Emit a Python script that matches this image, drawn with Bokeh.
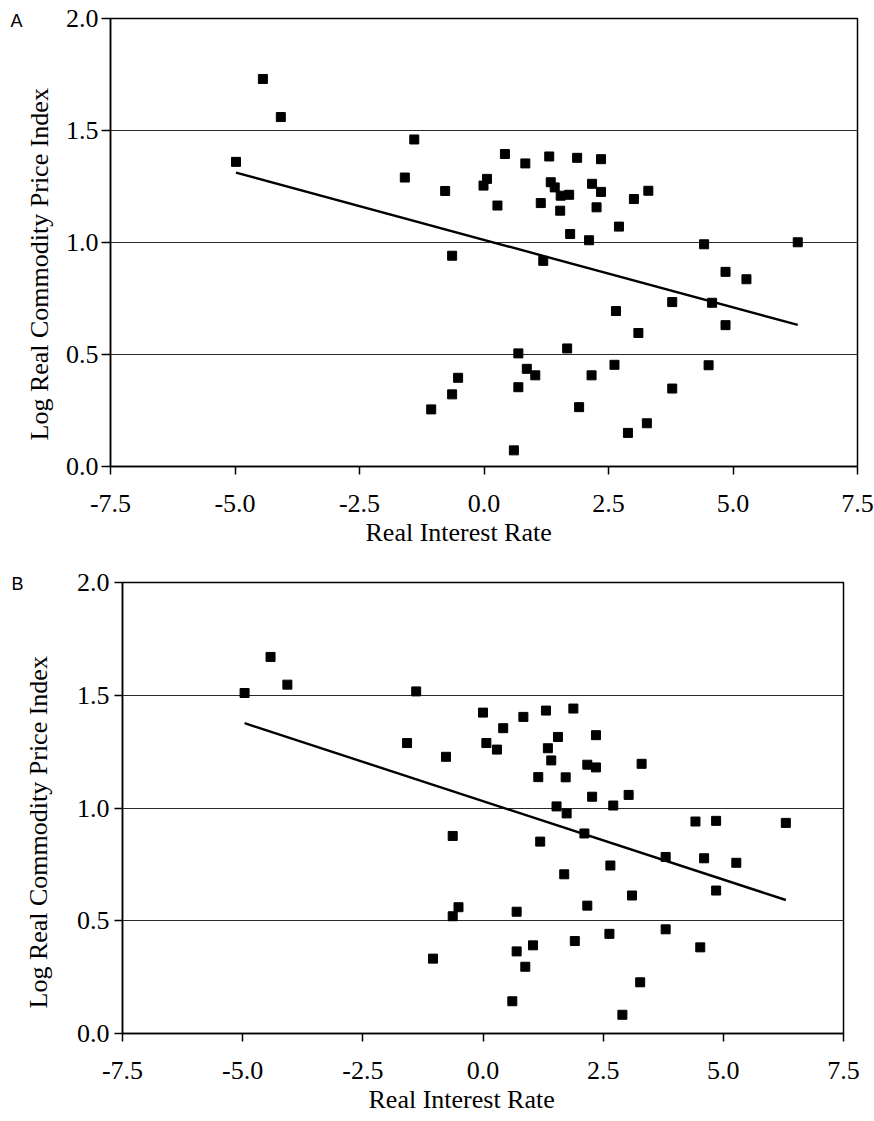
from bokeh.plotting import figure
from bokeh.layouts import column, row
from bokeh.models import Range1d, FixedTicker, PrintfTickFormatter, Title
from bokeh.embed import file_html
from bokeh.resources import INLINE

# ---------------- data ----------------
x_ticks = [-7.5, -5.0, -2.5, 0.0, 2.5, 5.0, 7.5]
y_ticks = [0.0, 0.5, 1.0, 1.5, 2.0]
x_title = "Real Interest Rate"
y_title = "Log Real Commodity Price Index"
panel_names = ["A", "B"]

a_rate = [-4.98, -4.44, -4.08, -1.40, -1.59, -0.78, 0.42, 0.83, 1.31, 1.87,
          2.35, 0.06, -0.01, 0.27, 1.14, 1.34, 1.42, 1.54, 1.71, 1.53,
          2.17, 2.35, 2.26, 3.01, 3.30, 2.71, 1.73, 2.11, 4.42, 6.30,
          -0.64, 1.19, 4.85, 5.27, 3.78, 4.58, 4.85, 2.65, 3.10, 1.67,
          0.69, 0.86, 1.03, 2.16, 2.62, 4.51, 0.69, 3.78, 1.91, 3.27,
          2.89, 0.60, -0.52, -0.64, -1.06]
a_price = [1.360, 1.730, 1.560, 1.460, 1.290, 1.230, 1.395, 1.353, 1.384, 1.378,
           1.372, 1.284, 1.254, 1.165, 1.176, 1.269, 1.246, 1.209, 1.213, 1.142,
           1.262, 1.226, 1.157, 1.194, 1.231, 1.071, 1.038, 1.010, 0.992, 1.001,
           0.941, 0.918, 0.869, 0.836, 0.734, 0.731, 0.631, 0.694, 0.596, 0.527,
           0.505, 0.436, 0.407, 0.407, 0.454, 0.452, 0.354, 0.348, 0.265, 0.193,
           0.150, 0.072, 0.396, 0.322, 0.255]
a_fit_rate = [-4.98, 6.30]
a_fit_price = [1.312, 0.632]

b_rate = [-4.96, -4.42, -4.07, -1.39, -1.58, -0.77, 0.00, 0.07, 0.29, 0.42,
          0.84, 1.31, 1.88, 1.56, 1.35, 1.42, 2.35, 2.17, 2.35, 3.30,
          1.15, 1.72, 2.27, 3.03, 2.71, 1.53, 1.74, 4.42, 4.85, 6.30,
          -0.63, 2.11, 1.19, 3.80, 4.60, 5.27, 2.65, 1.69, 4.85, 3.10,
          2.17, -0.51, -0.63, 0.70, 3.80, 2.63, 1.91, 4.52, 1.04, 0.70,
          0.88, -1.04, 3.27, 0.61, 2.90]
b_price = [1.510, 1.670, 1.547, 1.517, 1.288, 1.227, 1.423, 1.288, 1.259, 1.354,
           1.404, 1.432, 1.441, 1.315, 1.265, 1.211, 1.323, 1.192, 1.180, 1.196,
           1.137, 1.136, 1.050, 1.058, 1.011, 1.007, 0.976, 0.940, 0.943, 0.934,
           0.876, 0.887, 0.851, 0.783, 0.777, 0.757, 0.745, 0.706, 0.634, 0.612,
           0.567, 0.560, 0.520, 0.540, 0.462, 0.442, 0.410, 0.382, 0.391, 0.364,
           0.296, 0.332, 0.227, 0.143, 0.083]
b_fit_rate = [-4.96, 6.30]
b_fit_price = [1.376, 0.592]

SERIF = "Liberation Serif"
SANS = "Liberation Sans"
FS = "26px"


def make_panel(rate, price, fit_rate, fit_price, name, height, bl, br, bt, bb,
               ytick_out, ylab_standoff, xlab_standoff,
               ytitle_offset, ytitle_standoff, xtitle_offset, xtitle_standoff,
               name_offset, name_standoff):
    p = figure(width=874, height=height, output_backend="svg", toolbar_location=None,
               x_range=Range1d(x_ticks[0], x_ticks[-1]),
               y_range=Range1d(y_ticks[0], y_ticks[-1]),
               min_border_left=bl, min_border_right=br,
               min_border_top=bt, min_border_bottom=bb)
    p.background_fill_color = "white"
    p.border_fill_color = "white"
    p.outline_line_color = "black"
    p.outline_line_width = 1.5

    p.xgrid.visible = False
    p.ygrid.ticker = FixedTicker(ticks=y_ticks)
    p.ygrid.grid_line_color = "#2a2a2a"
    p.ygrid.grid_line_width = 1

    for ax, ticks in ((p.xaxis, x_ticks), (p.yaxis, y_ticks)):
        ax.ticker = FixedTicker(ticks=ticks)
        ax.formatter = PrintfTickFormatter(format="%.1f")
        ax.major_label_text_font = SERIF
        ax.major_label_text_font_size = FS
        ax.major_label_text_color = "black"
        ax.axis_line_color = "black"
        ax.axis_line_width = 1.5
        ax.major_tick_line_color = "black"
        ax.major_tick_line_width = 1.5
        ax.major_tick_in = 0
        ax.minor_tick_line_color = None
    p.xaxis.major_tick_out = 8
    p.yaxis.major_tick_out = ytick_out
    p.xaxis.major_label_standoff = xlab_standoff
    p.yaxis.major_label_standoff = ylab_standoff

    p.line(fit_rate, fit_price, line_color="black", line_width=2.4)
    p.scatter(rate, price, marker="square", size=9, fill_color="black",
              line_color="black")

    p.add_layout(Title(text=y_title, align="left", offset=ytitle_offset,
                       standoff=ytitle_standoff, text_font=SERIF,
                       text_font_size=FS, text_font_style="normal",
                       text_color="black"), "left")
    p.add_layout(Title(text=x_title, align="left", offset=xtitle_offset,
                       standoff=xtitle_standoff, text_font=SERIF,
                       text_font_size=FS, text_font_style="normal",
                       text_color="black"), "below")
    p.add_layout(Title(text=name, align="left", offset=name_offset,
                       standoff=name_standoff, text_font=SANS,
                       text_font_size="18px", text_font_style="normal",
                       text_color="black"), "above")
    return p


pa = make_panel(a_rate, a_price, a_fit_rate, a_fit_price, panel_names[0],
                height=554, bl=110, br=17, bt=18, bb=88,
                ytick_out=9, ylab_standoff=3, xlab_standoff=20,
                ytitle_offset=26, ytitle_standoff=18,
                xtitle_offset=255, xtitle_standoff=2,
                name_offset=-100, name_standoff=-24)
pb = make_panel(b_rate, b_price, b_fit_rate, b_fit_price, panel_names[1],
                height=567, bl=121, br=31, bt=28, bb=88,
                ytick_out=8, ylab_standoff=5, xlab_standoff=20,
                ytitle_offset=25, ytitle_standoff=42,
                xtitle_offset=246, xtitle_standoff=2,
                name_offset=-111, name_standoff=-22)

layout = column(row(pa), row(pb), spacing=0)
open("out.html", "w").write(file_html(layout, INLINE))
